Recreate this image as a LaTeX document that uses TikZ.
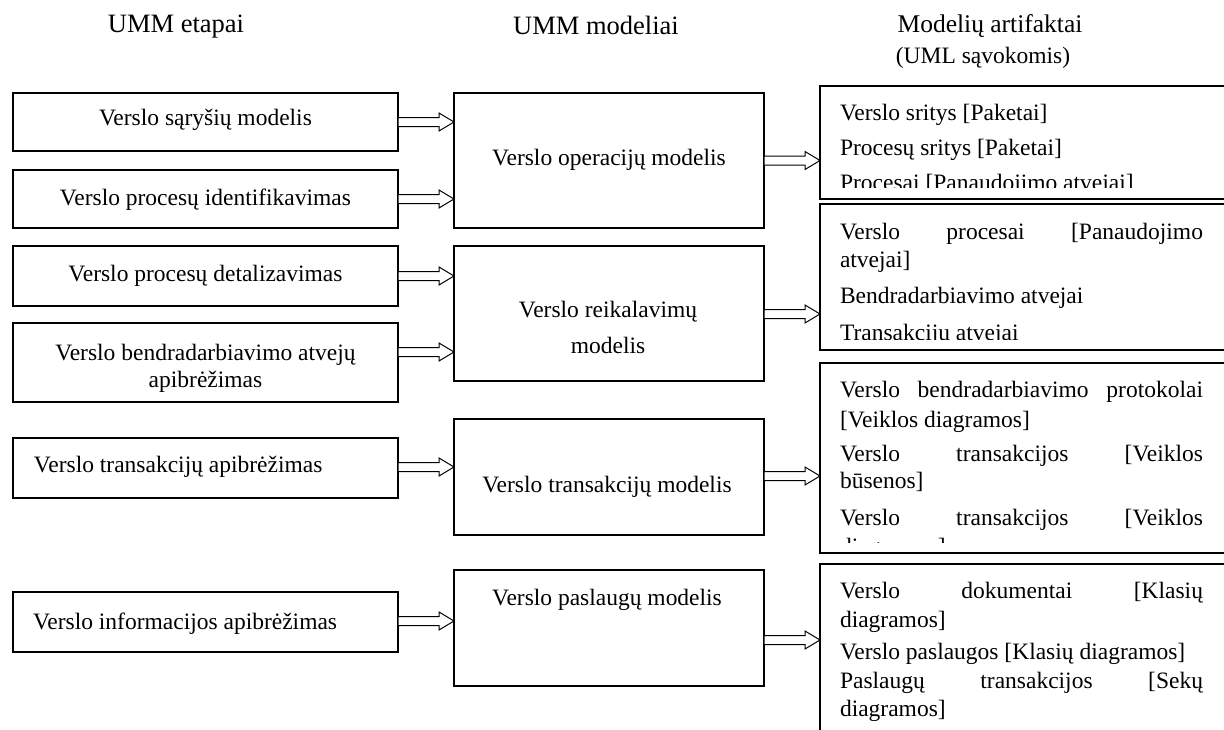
\documentclass[tikz,border=0pt]{standalone}
\usepackage{fontspec}
\setmainfont{Liberation Serif}
\usetikzlibrary{calc}

\tikzset{
  frame/.style={draw=black, line width=1.1pt, fill=white, inner sep=0pt, outer sep=0pt},
  txt/.style={inner sep=0pt, outer sep=0pt, font=\fontsize{23.5}{28}\selectfont},
  head/.style={txt, anchor=base},
  bighead/.style={head, font=\fontsize{26.5}{30}\selectfont},
  midhead/.style={head, font=\fontsize{25.5}{30}\selectfont},
  ctext/.style={txt, anchor=base},
  ltext/.style={txt, anchor=base west},
  blockarrow/.style={draw=black, line width=1pt, fill=white, line join=miter},
}

% box given by its left, top, right and bottom edges
\newcommand\umbox[5]{%
  \node[frame, minimum width={(#4)-(#2)}, minimum height={(#5)-(#3)}]
    (#1) at ({((#2)+(#4))/2},{((#3)+(#5))/2}) {};}

% hollow block arrow from the east side of #1 to the west side of #2,
% shifted vertically by #3
\newcommand\blockarrow[3]{%
  \path[blockarrow] let \p1=($(#1.east)+(0,#3)$), \p2=(#2.west) in
    (\x1,{\y1+4.5pt}) -- ({\x2-15pt},{\y1+4.5pt}) -- ({\x2-15pt},{\y1+9pt})
    -- (\x2,\y1) -- ({\x2-15pt},{\y1-9pt}) -- ({\x2-15pt},{\y1-4.5pt})
    -- (\x1,{\y1-4.5pt}) -- cycle;}

% justified line of a paragraph in the artefact column
\newcommand\jline[1]{\makebox[363pt][s]{#1}}

\begin{document}
\begin{tikzpicture}[x=1pt, y=-1pt]
\useasboundingbox (0,0) rectangle (1224,729);
\clip (0,0) rectangle (1224,729);

% column headings
\node[bighead] (h1) at (176,32) {UMM etapai};
\node[bighead] (h2) at (596,34) {UMM modeliai};
\node[midhead] (h3) at (990,32) {Modelių artifaktai};
\node[head] (h4) at (983,63) {(UML sąvokomis)};

% UMM stages
\umbox{l1}{13}{93}{398}{151}
\umbox{l2}{13}{170}{398}{228}
\umbox{l3}{13}{246}{398}{306}
\umbox{l4}{13}{323}{398}{402}
\umbox{l5}{13}{438}{398}{498}
\umbox{l6}{13}{592}{398}{652}

\node[ctext] (l1t) at (205.5,125) {Verslo sąryšių modelis};
\node[ctext] (l2t) at (205.5,205) {Verslo procesų identifikavimas};
\node[ctext] (l3t) at (205.5,281) {Verslo procesų detalizavimas};
\node[ctext] (l4t) at (205.5,360) {Verslo bendradarbiavimo atvejų};
\node[ctext] (l4u) at (205.5,387) {apibrėžimas};
\node[ltext] (l5t) at (34,472) {Verslo transakcijų apibrėžimas};
\node[ltext] (l6t) at (33,629) {Verslo informacijos apibrėžimas};

% UMM models
\umbox{m1}{454}{93}{764}{228}
\umbox{m2}{454}{246}{764}{381}
\umbox{m3}{454}{419}{764}{535}
\umbox{m4}{454}{570}{764}{686}

\node[ctext] (m1t) at (609,165) {Verslo operacijų modelis};
\node[ctext] (m2t) at (608,317) {Verslo reikalavimų};
\node[ctext] (m2u) at (608,353) {modelis};
\node[ctext] (m3t) at (607,492) {Verslo transakcijų modelis};
\node[ctext] (m4t) at (607,605) {Verslo paslaugų modelis};

% model artefacts (text boxes running past the right margin)
\umbox{r1}{820}{86}{1240}{199}
\umbox{r2}{820}{204}{1240}{350}
\umbox{r3}{820}{363}{1240}{553}
\umbox{r4}{820}{564}{1240}{760}

\begin{scope}
  \clip (821,87) rectangle (1224,187);
  \node[ltext] (r1a) at (840,120) {Verslo sritys [Paketai]};
  \node[ltext] (r1b) at (840,155) {Procesų sritys [Paketai]};
  \node[ltext] (r1c) at (840,190) {Procesai [Panaudojimo atvejai]};
\end{scope}

\begin{scope}
  \clip (821,205) rectangle (1224,339);
  \node[ltext] (r2a) at (840,239) {\jline{Verslo procesai [Panaudojimo}};
  \node[ltext] (r2b) at (840,267) {atvejai]};
  \node[ltext] (r2c) at (840,303) {Bendradarbiavimo atvejai};
  \node[ltext] (r2d) at (840,340) {Transakcijų atvejai};
\end{scope}

\begin{scope}
  \clip (821,364) rectangle (1224,542);
  \node[ltext] (r3a) at (840,397) {\jline{Verslo bendradarbiavimo protokolai}};
  \node[ltext] (r3b) at (840,427) {[Veiklos diagramos]};
  \node[ltext] (r3c) at (840,461) {\jline{Verslo transakcijos [Veiklos}};
  \node[ltext] (r3d) at (840,488) {būsenos]};
  \node[ltext] (r3e) at (840,525) {\jline{Verslo transakcijos [Veiklos}};
  \node[ltext] (r3f) at (840,554) {diagramos]};
\end{scope}

\begin{scope}
  \clip (821,565) rectangle (1224,720);
  \node[ltext] (r4a) at (840,598) {\jline{Verslo dokumentai [Klasių}};
  \node[ltext] (r4b) at (840,627) {diagramos]};
  \node[ltext] (r4c) at (840,659) {Verslo paslaugos [Klasių diagramos]};
  \node[ltext] (r4d) at (840,688) {\jline{Paslaugų transakcijos [Sekų}};
  \node[ltext] (r4e) at (840,716) {diagramos]};
\end{scope}

% stages feed models
\blockarrow{l1}{m1}{0}
\blockarrow{l2}{m1}{0}
\blockarrow{l3}{m2}{0}
\blockarrow{l4}{m2}{-10.5}
\blockarrow{l5}{m3}{-1}
\blockarrow{l6}{m4}{-1}

% models yield artefacts
\blockarrow{m1}{r1}{0}
\blockarrow{m2}{r2}{0.5}
\blockarrow{m3}{r3}{-1}
\blockarrow{m4}{r4}{12}
\end{tikzpicture}
\end{document}
